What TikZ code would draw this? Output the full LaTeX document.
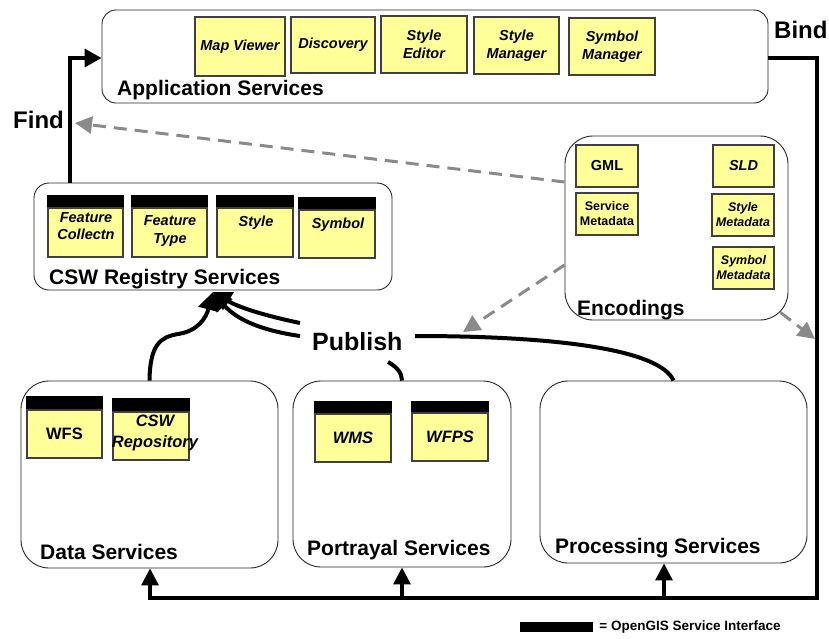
\documentclass[tikz,border=0pt]{standalone}
\usepackage{fontspec}
\setmainfont{Liberation Sans}
\usetikzlibrary{arrows.meta}
\definecolor{noteyellow}{HTML}{FFFF99}
\definecolor{dashgray}{HTML}{8A8A8A}
\newcommand\grouplabelfont{\fontsize{21}{24}\selectfont\bfseries}
\newcommand\bigwordfont{\fontsize{24}{28}\selectfont\bfseries}
\begin{document}
\begin{tikzpicture}[x=1pt,y=-1pt,
  group/.style={draw=black!85, line width=0.9pt, fill=white, rounded corners=#1, inner sep=0pt},
  group/.default=15pt,
  ybox/.style={rectangle, draw=black!75, line width=1.2pt, fill=noteyellow, inner sep=0pt},
  ytext/.style={font=\fontsize{14.5}{17.5}\selectfont\bfseries\itshape, align=center, inner sep=0pt},
  ytextup/.style={font=\fontsize{14.5}{17.5}\selectfont\bfseries, align=center, inner sep=0pt},
  mtext/.style={font=\fontsize{12.5}{15}\selectfont\bfseries, align=center, inner sep=0pt},
  mtextit/.style={font=\fontsize{12.5}{15}\selectfont\bfseries\itshape, align=center, inner sep=0pt},
  btext/.style={font=\fontsize{16.5}{21}\selectfont\bfseries, align=center, inner sep=0pt},
  btextit/.style={font=\fontsize{16.5}{21}\selectfont\bfseries\itshape, align=center, inner sep=0pt},
  glabel/.style={font=\grouplabelfont, anchor=base west, inner sep=0pt},
  conn/.style={draw=black, line width=3.5pt, line join=miter},
  bus/.style={draw=black, line width=3.2pt, line join=miter},
  pub/.style={draw=black, line width=4pt},
  gdash/.style={draw=dashgray, line width=3pt, dash pattern=on 13pt off 8pt,
                -{Triangle[length=17pt,width=17pt,fill=dashgray]}},
  bighead/.style={-{Triangle[length=18pt,width=20pt]}},
]
\useasboundingbox (0,0) rectangle (829,638);

% ---- service groups ----
\node[group=14pt, minimum width=666, minimum height=93] (app) at (435,56.5) {};
\node[group=15pt, minimum width=358, minimum height=107] (csw) at (213,236.5) {};
\node[group=28pt, minimum width=223, minimum height=184] (enc) at (676.5,228) {};
\node[group=28pt, minimum width=257, minimum height=187] (data) at (149.5,474.5) {};
\node[group=28pt, minimum width=218, minimum height=186] (por) at (402,474) {};
\node[group=28pt, minimum width=267, minimum height=182] (proc) at (673.5,472) {};

\node[glabel] (applab) at (117,95) {Application Services};
\node[glabel] (cswlab) at (49,284) {CSW Registry Services};
\node[glabel] (enclab) at (577,315) {Encodings};
\node[glabel] (datalab) at (40,559) {Data Services};
\node[glabel] (porlab) at (307,555) {Portrayal Services};
\node[glabel] (proclab) at (555,553) {Processing Services};

% ---- application components ----
\node[ybox, ytext, minimum width=90, minimum height=59] (mapv) at (240,46.5) {Map Viewer};
\node[ybox, ytext, minimum width=84, minimum height=56] (disc) at (333,45) {Discovery};
\node[ybox, ytext, minimum width=86, minimum height=57] (sted) at (424,44.5) {Style\\Editor};
\node[ybox, ytext, minimum width=85, minimum height=57] (stman) at (516.5,45.5) {Style\\Manager};
\node[ybox, ytext, minimum width=86, minimum height=57] (syman) at (612,46.5) {Symbol\\Manager};

% ---- registry entries ----
\node[ybox, minimum width=75, minimum height=49] (fc) at (85.5,232.5) {};
\node[ybox, minimum width=75, minimum height=49] (ft) at (169.5,232.5) {};
\node[ybox, minimum width=76, minimum height=49] (sty) at (255,232.5) {};
\node[ybox, minimum width=76, minimum height=48] (sym) at (337,234) {};
\node[ytext] (fct) at (86,226) {Feature\\Collectn};
\node[ytext] (ftt) at (170,231) {Feature\\Type};
\node[ytext] (styt) at (256,223) {Style};
\node[ytext] (symt) at (338,225) {Symbol};

% ---- encodings ----
\node[ybox, ytextup, minimum width=62, minimum height=42] (gml) at (607,166) {GML};
\node[ybox, mtext, minimum width=62, minimum height=42] (smd) at (607,214) {Service\\Metadata};
\node[ybox, ytext, minimum width=61, minimum height=42] (sld) at (743.5,166) {SLD};
\node[ybox, mtextit, minimum width=62, minimum height=42] (stmd) at (743,215) {Style\\Metadata};
\node[ybox, mtextit, minimum width=61, minimum height=42] (symd) at (743.5,268) {Symbol\\Metadata};

% ---- data and portrayal services ----
\node[ybox, btext, minimum width=75, minimum height=48] (wfs) at (64.5,434) {WFS};
\node[ybox, minimum width=76, minimum height=48] (csr) at (151,436) {};
\node[btextit] (csrt) at (155,432.5) {CSW\\Repository};
\node[ybox, btextit, minimum width=76, minimum height=48] (wms) at (353,438) {WMS};
\node[ybox, btextit, minimum width=76, minimum height=48] (wfps) at (450,437) {WFPS};

% black tops mark the OpenGIS service interfaces
\foreach \n/\h in {fc/12, ft/12, sty/12, sym/12, wfs/13, csr/13, wms/12, wfps/11}
  \fill[black] (\n.north west) rectangle ([yshift=\h pt]\n.north east);

% ---- find ----
\coordinate (findc) at (70,58);
\draw[conn, -{Triangle[length=17pt,width=18pt]}] (csw.north -| findc) -- (findc) -- (app.west |- findc);
\node[font=\bigwordfont, anchor=base west, inner sep=0pt] (find) at (13,128) {Find};

% ---- bind ----
\node[font=\bigwordfont, anchor=base west, inner sep=0pt] (bind) at (774,38) {Bind};
\coordinate (bindtop) at (817,58);
\coordinate (bindbot) at (817,598);
\coordinate (busl) at (150,598);
\coordinate (procx) at (664,598);
\draw[bus, -{Triangle[length=17pt,width=17pt]}]
  (app.east |- bindtop) -- (bindtop) -- (bindbot) -- (busl) -- (data.south -| busl);
\draw[bus, -{Triangle[length=17pt,width=17pt]}] (por.south |- busl) -- (por.south);
\draw[bus, -{Triangle[length=17pt,width=17pt]}] (procx) -- (proc.south -| procx);

% ---- publish ----
\node[font=\fontsize{25}{29}\selectfont\bfseries, anchor=base west, inner sep=0pt] (publish) at (312,350) {Publish};
\coordinate (pubtip) at (213,292);
\coordinate (pubA) at (300,323);
\coordinate (pubB) at (300,336);
\coordinate (pubC) at (415,336);
\coordinate (pubD) at (388,362);
\draw[pub, bighead] (data.north) .. controls (150,345) and (160,337) .. (178,334)
  .. controls (198,331) and (206,318) .. (pubtip);
\draw[pub, bighead] (pubA) .. controls (262,315) and (238,307) .. (pubtip);
\draw[pub, bighead] (pubB) .. controls (258,330) and (235,318) .. (pubtip);
\draw[pub] (pubC) .. controls (560,336) and (660,350) .. (proc.north);
\draw[pub] (pubD) .. controls (397,367) and (402,373) .. (por.north);

% ---- encodings usage ----
\coordinate (ya) at (0,182);
\coordinate (yb) at (0,265);
\coordinate (findtip) at (75,123);
\coordinate (pubhit) at (463,332);
\coordinate (bindhit) at (815,339);
\draw[gdash] (enc.west |- ya) -- (findtip);
\draw[gdash] (enc.west |- yb) -- (pubhit);
\draw[gdash] ([shift={(-8,-8)}]enc.south east) -- (bindhit);

% ---- legend ----
\node[fill=black, minimum width=73, minimum height=10, inner sep=0pt] (legbar) at (556.5,627) {};
\node[font=\fontsize{13.5}{15}\selectfont\bfseries, anchor=west, inner sep=0pt] (legtxt)
  at ([xshift=6pt]legbar.east) {= OpenGIS Service Interface};
\end{tikzpicture}
\end{document}
